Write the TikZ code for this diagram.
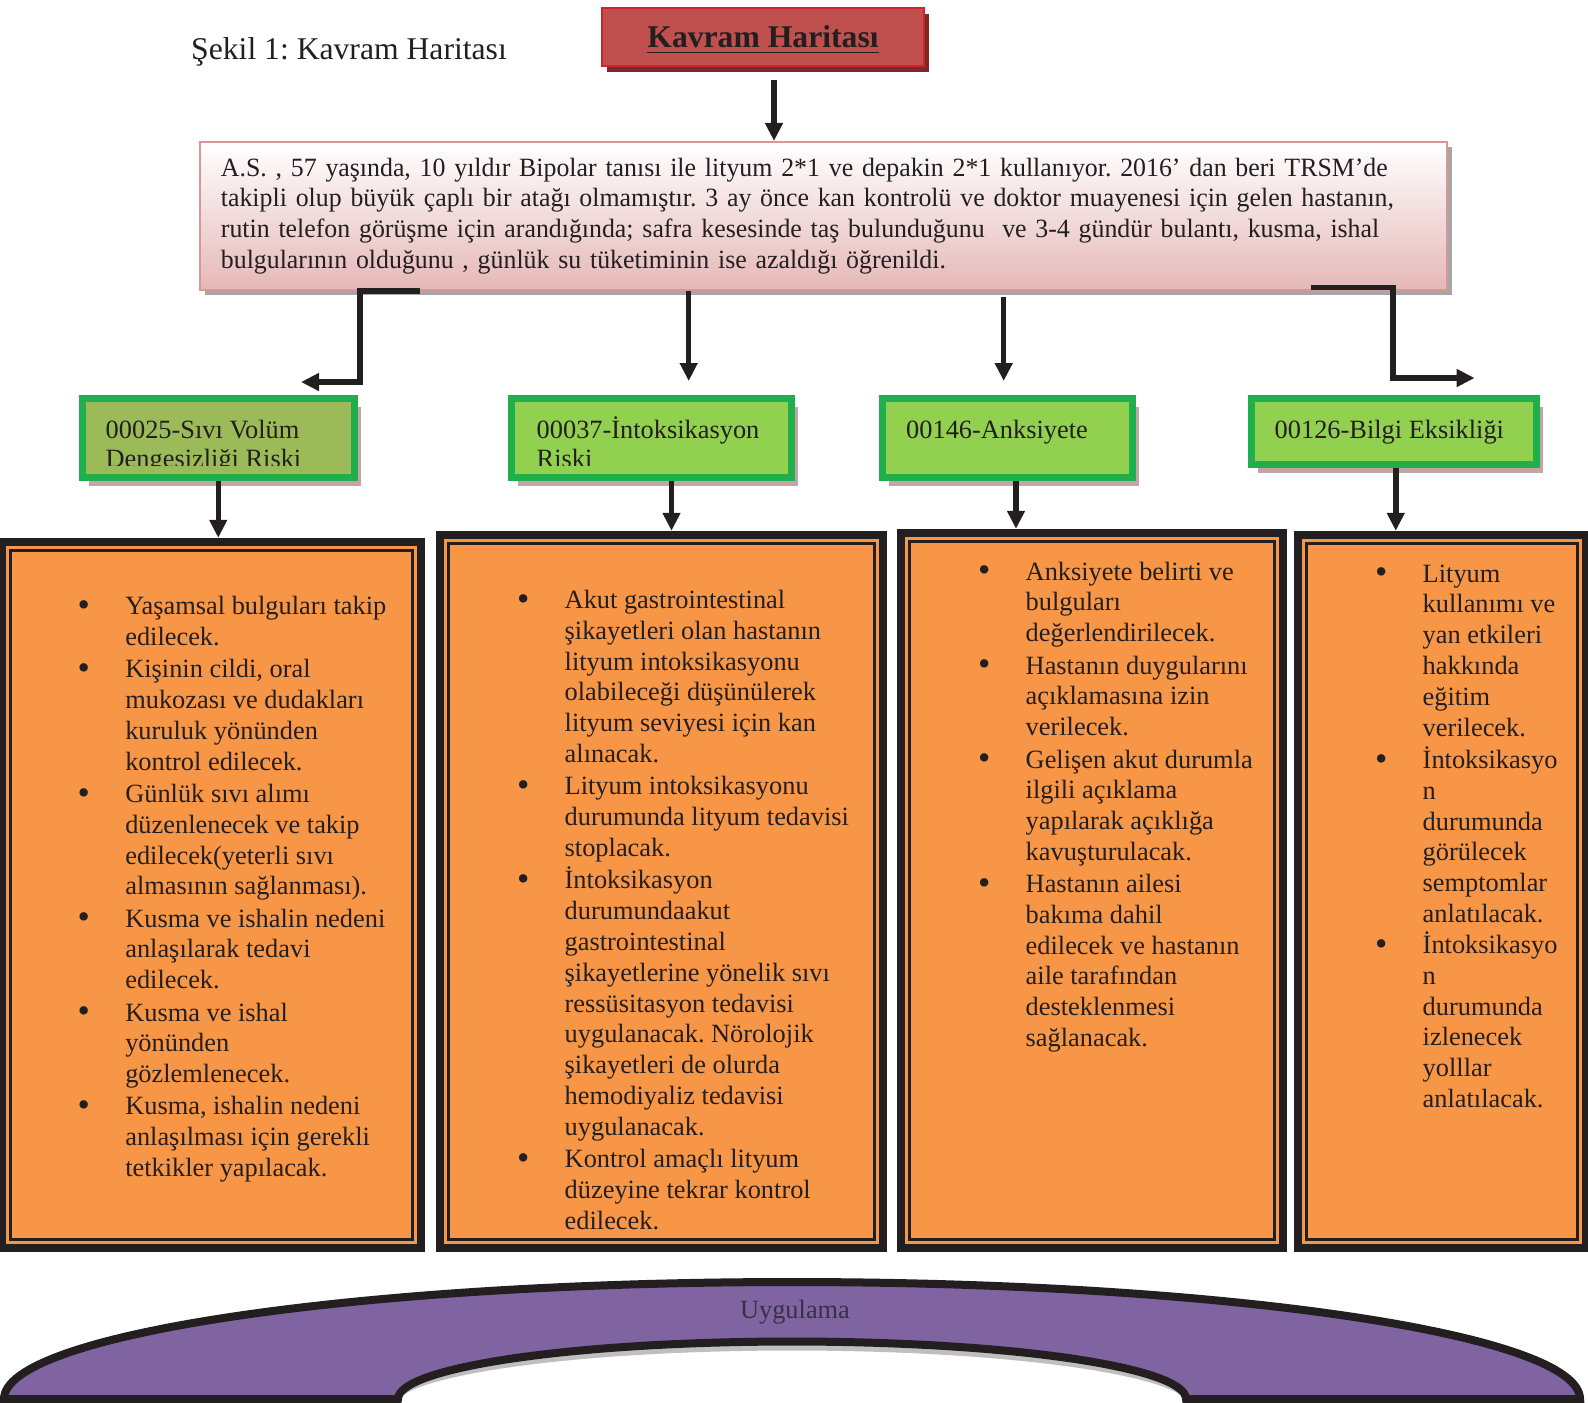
\documentclass[tikz,border=0pt]{standalone}
\usepackage{fontspec}
\setmainfont{Liberation Serif}
\newfontfamily\casefont{Liberation Serif}[FakeStretch=0.98]
\usepackage{tikz}
\usetikzlibrary{arrows.meta,positioning,calc,shadows}
\definecolor{ink}{HTML}{231F20}
\definecolor{kred}{HTML}{C0504D}
\definecolor{kredline}{HTML}{D2232A}
\definecolor{kredshadow}{HTML}{7A2A2A}
\definecolor{casepink}{HTML}{E5B8B7}
\definecolor{caseline}{HTML}{D99694}
\definecolor{caseshadow}{HTML}{A6A6A6}
\definecolor{dxgreen}{HTML}{92D050}
\definecolor{dxolive}{HTML}{9BBB59}
\definecolor{dxline}{HTML}{1FAF4D}
\definecolor{dxshadow}{HTML}{C4A4A4}
\definecolor{planorange}{HTML}{F79646}
\definecolor{archpurple}{HTML}{8064A2}
\definecolor{archtext}{HTML}{3A3045}
\frenchspacing
\newcommand{\itm}{\llap{\makebox[0.476cm][l]{\raisebox{-0.5pt}{\fontsize{10pt}{0pt}\selectfont\textbullet}}}}
\newcommand{\planlines}[1]{\begin{tabular}[t]{@{}l@{}}#1\end{tabular}}

\begin{document}
\begin{tikzpicture}[x=0.01cm,y=-0.01cm,
  every node/.style={font=\fontsize{7.5pt}{8.75pt}\selectfont,text=ink},
  titlebox/.style={draw=kredline,line width=0.02cm,fill=kred,minimum width=3.22cm,minimum height=0.58cm,
    text height=6pt,text depth=0pt,font=\fontsize{9pt}{11pt}\selectfont\bfseries,
    drop shadow={shadow xshift=0.05cm,shadow yshift=-0.06cm,fill=kredshadow,opacity=1}},
  casebox/.style={draw=caseline,line width=0.02cm,top color=white,bottom color=casepink,
    minimum width=12.465cm,minimum height=1.48cm,text width=12.05cm,align=left,inner xsep=0.2cm,
    font=\fontsize{7.5pt}{8.75pt}\casefont,
    drop shadow={shadow xshift=0.05cm,shadow yshift=-0.05cm,fill=caseshadow,opacity=1}},
  dxbox/.style={draw=dxline,line width=0.07cm,fill=dxgreen,minimum height=0.79cm,
    drop shadow={shadow xshift=0.065cm,shadow yshift=-0.085cm,fill=dxshadow,opacity=1}},
  dxtext/.style={anchor=base west,inner sep=0pt,font=\fontsize{7.5pt}{8.4pt}\selectfont},
  planbox/.style={draw=ink,line width=0.08cm,fill=planorange,
    path picture={\draw[ink,line width=0.03cm]
      ([shift={(0.085cm,-0.085cm)}]path picture bounding box.north west) rectangle
      ([shift={(-0.085cm,0.085cm)}]path picture bounding box.south east);}},
  plantext/.style={anchor=base west,inner sep=0pt},
  conn/.style={draw=ink,line width=0.055cm,-{Triangle[length=0.18cm,width=0.17cm]}}
]
  \useasboundingbox (0,0) rectangle (1588,1402);

  \node[font=\fontsize{9pt}{11pt}\selectfont] (fig) at (349,52) {Şekil 1: Kavram Haritası};
  \node[titlebox] (title) at (763,37) {\underline{Kavram Haritası}};

  \node[casebox] (case) at (823.75,216) {A.S. , 57 yaşında, 10 yıldır Bipolar tanısı ile lityum 2*1 ve depakin 2*1 kullanıyor. 2016’ dan beri TRSM’de\\
    takipli olup büyük çaplı bir atağı olmamıştır. 3 ay önce kan kontrolü ve doktor muayenesi için gelen hastanın,\\
    rutin telefon görüşme için arandığında; safra kesesinde taş bulunduğunu\ \ ve 3-4 gündür bulantı, kusma, ishal\\
    bulgularının olduğunu , günlük su tüketiminin ise azaldığı öğrenildi.};

  \node[dxbox,fill=dxolive,minimum width=2.715cm] (d1) at (218.25,438) {};
  \node[dxbox,minimum width=2.80cm] (d2) at (651.5,438) {};
  \node[dxbox,minimum width=2.50cm] (d3) at (1007.5,438) {};
  \node[dxbox,minimum width=2.845cm,minimum height=0.66cm] (d4) at (1393.75,431.5) {};
  \begin{scope}
    \clip (d1.north west) rectangle ($(d1.south east)+(0,-16)$);
    \node[dxtext] (d1t) at (105,438) {\planlines{00025-Sıvı Volüm\\ Dengesizliği Riski}};
  \end{scope}
  \begin{scope}
    \clip (d2.north west) rectangle ($(d2.south east)+(0,-16)$);
    \node[dxtext] (d2t) at (536,438) {\planlines{00037-İntoksikasyon\\ Riski}};
  \end{scope}
  \node[dxtext] (d3t) at (905.5,438) {00146-Anksiyete};
  \node[dxtext] (d4t) at (1274,438) {00126-Bilgi Eksikliği};

  \node[planbox,minimum width=4.19cm,minimum height=7.06cm] (o1) at (211.5,895) {};
  \node[planbox,minimum width=4.425cm,minimum height=7.13cm] (o2) at (661.75,891.5) {};
  \node[planbox,minimum width=3.82cm,minimum height=7.15cm] (o3) at (1092,890.5) {};
  \node[planbox,minimum width=2.88cm,minimum height=7.13cm] (o4) at (1442,891.5) {};

  \node[plantext] (o1t) at (124.6,614.7) {\planlines{\itm Yaşamsal bulguları takip\\ edilecek.\\[0.45pt]
    \itm Kişinin cildi, oral\\ mukozası ve dudakları\\ kuruluk yönünden\\ kontrol edilecek.\\[0.45pt]
    \itm Günlük sıvı alımı\\ düzenlenecek ve takip\\ edilecek(yeterli sıvı\\ almasının sağlanması).\\[0.45pt]
    \itm Kusma ve ishalin nedeni\\ anlaşılarak tedavi\\ edilecek.\\[0.45pt]
    \itm Kusma ve ishal\\ yönünden\\ gözlemlenecek.\\[0.45pt]
    \itm Kusma, ishalin nedeni\\ anlaşılması için gerekli\\ tetkikler yapılacak.}};
  \node[plantext] (o2t) at (564,608.6) {\planlines{\itm Akut gastrointestinal\\ şikayetleri olan hastanın\\ lityum intoksikasyonu\\
    olabileceği düşünülerek\\ lityum seviyesi için kan\\ alınacak.\\[0.45pt]
    \itm Lityum intoksikasyonu\\ durumunda lityum tedavisi\\ stoplacak.\\[0.45pt]
    \itm İntoksikasyon\\ durumundaakut\\ gastrointestinal\\ şikayetlerine yönelik sıvı\\ ressüsitasyon tedavisi\\
    uygulanacak. Nörolojik\\ şikayetleri de olurda\\ hemodiyaliz tedavisi\\ uygulanacak.\\[0.45pt]
    \itm Kontrol amaçlı lityum\\ düzeyine tekrar kontrol\\ edilecek.}};
  \node[plantext] (o3t) at (1025,580.2) {\planlines{\itm Anksiyete belirti ve\\ bulguları\\ değerlendirilecek.\\[0.45pt]
    \itm Hastanın duygularını\\ açıklamasına izin\\ verilecek.\\[0.45pt]
    \itm Gelişen akut durumla\\ ilgili açıklama\\ yapılarak açıklığa\\ kavuşturulacak.\\[0.45pt]
    \itm Hastanın ailesi\\ bakıma dahil\\ edilecek ve hastanın\\ aile tarafından\\ desteklenmesi\\ sağlanacak.}};
  \node[plantext] (o4t) at (1422,582.2) {\planlines{\itm Lityum\\ kullanımı ve\\ yan etkileri\\ hakkında\\ eğitim\\ verilecek.\\[0.45pt]
    \itm İntoksikasyo\\ n\\ durumunda\\ görülecek\\ semptomlar\\ anlatılacak.\\
    \itm İntoksikasyo\\ n\\ durumunda\\ izlenecek\\ yolllar\\ anlatılacak.}};

  \coordinate (t0) at ($(title.south)+(11,13)$);
  \draw[conn] (t0) -- (t0 |- case.north);
  \coordinate (a1) at (301,382);
  \coordinate (a2) at (688.7,381);
  \coordinate (a3) at (1003.7,381);
  \coordinate (a4) at (1474.6,378);
  \draw[conn] ($(case.south west)+(220.5,0)$) -- ++(-59.5,0) |- (a1);
  \draw[conn] (a2 |- case.south) -- (a2);
  \draw[conn] ($(a3 |- case.south)+(0,6)$) -- (a3);
  \draw[conn] ($(case.south west)+(1112,-3.4)$) -- ++(82,0) |- (a4);

  \coordinate (b2) at ($(d2.south)+(20,0)$);
  \coordinate (b3) at ($(d3.south)+(8.5,0)$);
  \coordinate (b4) at ($(d4.south)+(2,0)$);
  \draw[conn] (d1.south) -- (d1.south |- o1.north);
  \draw[conn] (b2) -- (b2 |- o2.north);
  \draw[conn] (b3) -- (b3 |- o3.north);
  \draw[conn] (b4) -- (b4 |- o4.north);

  \draw[gray!50,line width=0.06cm] (392,1405) arc[start angle=180,end angle=360,x radius=400,y radius=57.5];
  \draw[ink,line width=0.08cm,fill=archpurple] (4,1399) arc[start angle=180,end angle=360,x radius=788,y radius=117]
    -- (1186,1399) arc[start angle=0,end angle=-180,x radius=394,y radius=57.5] -- cycle;
  \node[text=archtext] (impl) at (795,1312) {Uygulama};
\end{tikzpicture}
\end{document}
